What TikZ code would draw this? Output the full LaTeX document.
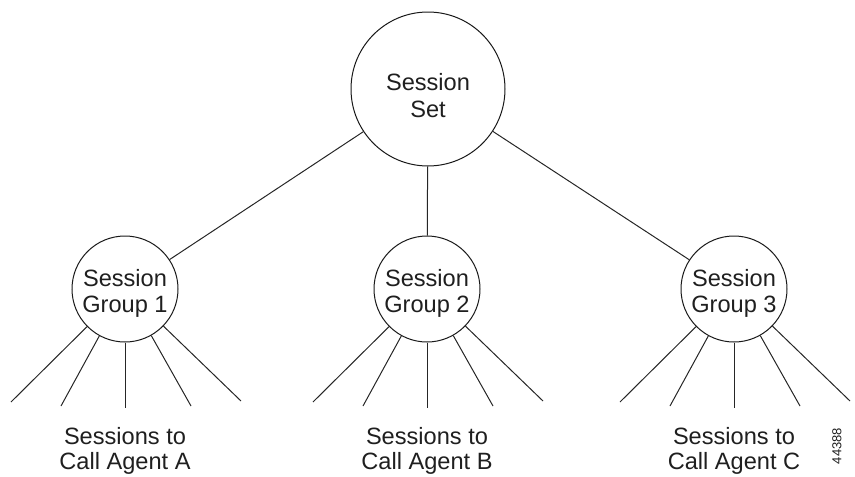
\documentclass[tikz,border=0pt]{standalone}
\usepackage{fontspec}
\setmainfont{Liberation Sans}
\begin{document}
\begin{tikzpicture}[x=1pt,y=-1pt,
  ring/.style={circle,draw=black!90,line width=1pt,inner sep=0pt,minimum size=#1},
  conn/.style={line width=1pt,draw=black!85},
  lbl/.style={font=\fontsize{23.6}{26}\selectfont,text=black!88,anchor=base,inner sep=0pt},
  tag/.style={font=\fontsize{13}{15}\selectfont,text=black!88,rotate=90,inner sep=0pt}]
\useasboundingbox (0,0) rectangle (855,477);

% root
\node[ring=154pt] (top) at (428,89) {};
\node[lbl] (topt1) at (428,90) {Session};
\node[lbl] (topt2) at (428,117) {Set};

% groups
\foreach \i/\x in {1/125,2/427,3/734}{
  \node[ring=106pt] (g\i) at (\x,289) {};
  \node[lbl] (g\i t1) at (\x,286) {Session};
  \node[lbl] (g\i t2) at (\x,312) {Group \i};
  \draw[conn] (top) -- (g\i);
  \foreach \j/\dx/\y in {1/-114/402,2/-64/406,3/0/408,4/66/406,5/116/401}{
    \coordinate (g\i e\j) at (\x+\dx,\y);
    \draw[conn] (g\i) -- (g\i e\j);
  }
}

% bottom captions
\foreach \i/\x/\c in {1/125/A,2/427/B,3/734/C}{
  \node[lbl] (s\i a) at (\x,444) {Sessions to};
  \node[lbl] (s\i b) at (\x,469) {Call Agent \c};
}

\node[tag] (num) at (837,446) {44388};
\end{tikzpicture}
\end{document}
